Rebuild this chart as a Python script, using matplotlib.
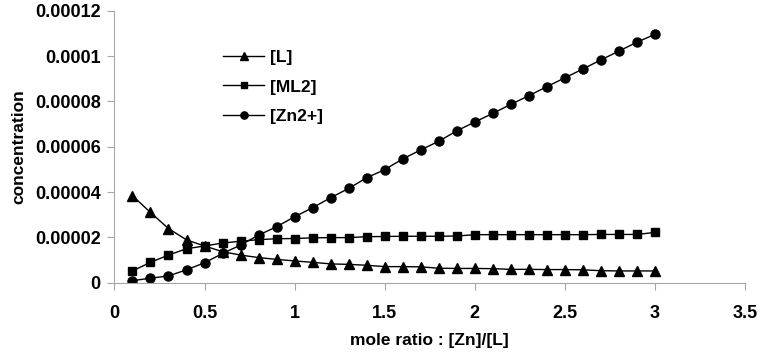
import matplotlib.pyplot as plt
from matplotlib.ticker import FuncFormatter

plt.rcParams['font.family'] = ['Liberation Sans', 'DejaVu Sans']
plt.rcParams['font.weight'] = 'bold'

# mole ratio [Zn]/[L]
ratio = [0.1, 0.2, 0.3, 0.4, 0.5, 0.6, 0.7, 0.8, 0.9, 1.0,
         1.1, 1.2, 1.3, 1.4, 1.5, 1.6, 1.7, 1.8, 1.9, 2.0,
         2.1, 2.2, 2.3, 2.4, 2.5, 2.6, 2.7, 2.8, 2.9, 3.0]

# concentrations (values x 1e-6)
conc_L = [38.4, 31.0, 23.9, 18.9, 16.2, 13.7, 12.2, 11.1, 10.3, 9.6,
          9.0, 8.3, 8.1, 7.7, 7.1, 7.1, 7.0, 6.4, 6.3, 6.3,
          6.2, 5.9, 5.9, 5.8, 5.8, 5.7, 5.3, 5.2, 5.2, 5.2]
conc_ML2 = [5.2, 9.0, 12.2, 15.0, 16.2, 17.5, 18.3, 19.0, 19.4, 19.5,
            19.8, 19.9, 19.9, 20.3, 20.4, 20.5, 20.5, 20.5, 20.6, 21.2,
            21.2, 21.2, 21.2, 21.2, 21.2, 21.2, 21.3, 21.3, 21.3, 22.2]
conc_Zn = [0.9, 2.0, 3.0, 5.7, 8.8, 12.9, 16.6, 21.0, 24.7, 29.1,
           33.1, 37.5, 41.6, 46.3, 49.9, 54.6, 58.6, 62.4, 67.0, 70.9,
           74.7, 78.7, 82.5, 86.5, 90.4, 94.3, 98.3, 102.2, 106.1, 109.6]

fig = plt.figure(figsize=(7.67, 3.62), dpi=100)
ax = fig.add_axes([0.1492, 0.219, 0.8222, 0.7514])

ax.plot(ratio, [v * 1e-6 for v in conc_L], color='black', lw=1.0,
        marker='^', markersize=7.5, label='[L]')
ax.plot(ratio, [v * 1e-6 for v in conc_ML2], color='black', lw=1.0,
        marker='s', markersize=6, label='[ML2]')
ax.plot(ratio, [v * 1e-6 for v in conc_Zn], color='black', lw=1.0,
        marker='o', markersize=6.5, label='[Zn2+]')

ax.set_xlim(0, 3.5)
ax.set_ylim(0, 0.00012)
ax.set_xticks([0, 0.5, 1, 1.5, 2, 2.5, 3, 3.5])
ax.set_yticks([0, 0.00002, 0.00004, 0.00006, 0.00008, 0.0001, 0.00012])
ax.xaxis.set_major_formatter(FuncFormatter(lambda v, p: f"{v:g}"))
ax.yaxis.set_major_formatter(
    FuncFormatter(lambda v, p: "0" if v == 0 else f"{v:.5f}".rstrip('0')))

for side in ['top', 'right']:
    ax.spines[side].set_visible(False)
for side in ['left', 'bottom']:
    ax.spines[side].set_color('#a6a6a6')
    ax.spines[side].set_linewidth(0.8)
ax.tick_params(axis='both', colors='#a6a6a6', length=5, width=0.8,
               labelcolor='black', labelsize=13)
ax.tick_params(axis='x', pad=11)
ax.tick_params(axis='y', pad=5)

ax.set_xlabel('mole ratio : [Zn]/[L]', fontsize=12.5, fontweight='bold', labelpad=8)
ax.set_ylabel('concentration', fontsize=12.5, fontweight='bold', labelpad=6)

ax.legend(loc='upper left', bbox_to_anchor=(0.147, 0.915), frameon=False,
          fontsize=12.5, handlelength=2.4, handletextpad=0.3, labelspacing=0.85,
          markerscale=0.8)

fig.savefig('out.png', dpi=100)
